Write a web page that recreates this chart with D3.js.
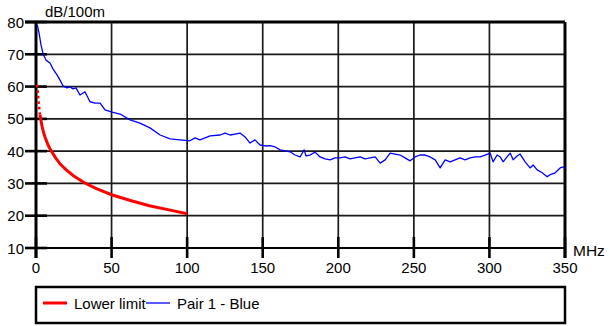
<!DOCTYPE html>
<html>
<head>
<meta charset="utf-8">
<script src="https://cdn.jsdelivr.net/npm/d3@7"></script>
<style>
    body { margin: 0; background: #fff; }
    text { font-family: "Liberation Sans", Arial, sans-serif; fill: #000; }
</style>
</head>
<body>
<div id="chart"></div>
<script>
// tick values
const xTicks = [0, 50, 100, 150, 200, 250, 300, 350];
const yTicks = [10, 20, 30, 40, 50, 60, 70, 80];

// Lower limit (red), first points are drawn dotted
const limitFreq = [0.8, 1, 1.5, 2, 2.6, 3, 4, 5, 6, 8, 10, 13, 16, 20, 25, 32, 40, 50, 62.5, 75, 88, 100];
const limitDb   = [60.5, 59.4, 56.2, 53.8, 51.3, 50.2, 47.7, 45.8, 44.3, 41.9, 40.1, 37.9, 36.0, 34.2, 32.3, 30.2, 28.4, 26.5, 24.7, 23.1, 21.8, 20.6];
const limitDotted = 2.6;

// Pair 1 - Blue
const pairFreq = [0.8, 2, 3.3, 4.8, 6.6, 9.3, 11.3, 13.9, 15.9, 17.9, 20.5, 22.5, 24.5, 26.5, 29.1, 32.4, 35.7, 39, 42.4, 45.7,
    50.3, 55.6, 62.2, 68.8, 75.4, 82.1, 88.7, 95.3, 101.9, 105.2, 108.5, 115.2, 121.8, 125.1, 128.4, 131.7, 135, 138.3, 141.6, 144.9,
    148.2, 151.6, 154.9, 158.2, 161.5, 164.8, 168.1, 171.4, 174.7, 177.4, 178.7, 181.3, 184.6, 188, 191.3, 194.6, 197.9, 201.2, 204.5, 207.8,
    211.1, 214.4, 217.7, 221, 224.4, 227.7, 231, 234.3, 237.6, 240.9, 244.2, 247.5, 250.8, 254.1, 257.4, 260.8, 264.1, 267.4, 270.7, 274,
    277.3, 280.6, 283.9, 287.2, 290.5, 293.8, 297.2, 300.5, 302.4, 305.1, 307.1, 309.1, 311.1, 313.7, 315.7, 318.3, 320.3, 323.6, 326.9, 328.9,
    331.6, 334.9, 338.2, 340.2, 343.5, 346.8, 348.8, 350];
const pairDb = [79.1, 76.6, 72.9, 70.0, 68.2, 67.3, 65.4, 63.6, 62.0, 60.2, 59.6, 59.9, 59.3, 59.6, 57.4, 58.4, 55.3, 54.9, 54.9, 52.8,
    52.1, 51.5, 49.7, 48.7, 47.2, 45.0, 43.8, 43.5, 43.2, 44.1, 43.5, 44.7, 45.0, 45.6, 45.0, 45.3, 45.6, 44.4, 42.5, 43.5,
    41.9, 41.6, 41.7, 41.3, 40.4, 40.1, 39.8, 38.8, 38.2, 40.4, 38.5, 38.8, 39.7, 38.2, 37.6, 37.3, 37.9, 37.9, 38.2, 37.6,
    37.9, 38.2, 37.6, 37.9, 38.2, 36.3, 37.3, 39.4, 39.1, 38.8, 37.9, 37.0, 38.2, 38.8, 38.8, 38.2, 37.3, 34.8, 37.3, 36.7,
    37.3, 37.9, 37.3, 37.9, 38.2, 38.2, 38.8, 39.4, 36.7, 38.8, 38.2, 36.7, 37.9, 39.4, 37.3, 38.5, 39.1, 36.7, 34.8, 35.7,
    34.2, 33.3, 32.1, 32.7, 33.3, 34.8, 35.1, 34.5];

const W = 610, H = 326;
const plot = {left: 36, right: 565, top: 22, bottom: 248};

const svg = d3.select("#chart").append("svg")
    .attr("width", W)
    .attr("height", H);

const x = d3.scaleLinear().domain([0, 350]).range([plot.left, plot.right]);
const y = d3.scaleLinear().domain([10, 80]).range([plot.bottom, plot.top]);

// grid
svg.append("g").selectAll("line")
    .data(yTicks.filter(d => d > 10 && d < 80))
    .join("line")
    .attr("x1", plot.left).attr("x2", plot.right)
    .attr("y1", d => y(d)).attr("y2", d => y(d))
    .attr("stroke", "#1a1a1a").attr("stroke-width", 1.7);

svg.append("g").selectAll("line")
    .data(xTicks.filter(d => d > 0 && d < 350))
    .join("line")
    .attr("x1", d => x(d)).attr("x2", d => x(d))
    .attr("y1", plot.top).attr("y2", plot.bottom)
    .attr("stroke", "#1a1a1a").attr("stroke-width", 1.7);

// frame
svg.append("line").attr("x1", plot.left - 11).attr("x2", plot.right).attr("y1", plot.top).attr("y2", plot.top)
    .attr("stroke", "#000").attr("stroke-width", 3);
svg.append("line").attr("x1", plot.left - 11).attr("x2", plot.right).attr("y1", plot.bottom).attr("y2", plot.bottom)
    .attr("stroke", "#000").attr("stroke-width", 2.2);
svg.append("line").attr("x1", plot.left).attr("x2", plot.left).attr("y1", plot.top).attr("y2", plot.bottom + 10)
    .attr("stroke", "#000").attr("stroke-width", 3);
svg.append("line").attr("x1", plot.right).attr("x2", plot.right).attr("y1", plot.top).attr("y2", plot.bottom + 10)
    .attr("stroke", "#000").attr("stroke-width", 3);

// y ticks
svg.append("g").selectAll("line")
    .data(yTicks)
    .join("line")
    .attr("x1", plot.left - 11).attr("x2", plot.left + 11)
    .attr("y1", d => y(d)).attr("y2", d => y(d))
    .attr("stroke", "#000").attr("stroke-width", 2.6);

svg.append("g").selectAll("text")
    .data(yTicks)
    .join("text")
    .attr("x", plot.left - 12)
    .attr("y", d => y(d) + 5.5)
    .attr("text-anchor", "end")
    .style("font-size", "15px")
    .text(d => d);

// x ticks
svg.append("g").selectAll("line")
    .data(xTicks)
    .join("line")
    .attr("x1", d => x(d)).attr("x2", d => x(d))
    .attr("y1", plot.bottom - 11).attr("y2", plot.bottom + 10)
    .attr("stroke", "#000").attr("stroke-width", 2.6);

svg.append("g").selectAll("text")
    .data(xTicks)
    .join("text")
    .attr("x", d => x(d))
    .attr("y", plot.bottom + 25)
    .attr("text-anchor", "middle")
    .style("font-size", "15px")
    .text(d => d);

svg.append("text").attr("x", 45).attr("y", 17).style("font-size", "15px").text("dB/100m");
svg.append("text").attr("x", 573).attr("y", 256).style("font-size", "15.5px").text("MHz");

// series
const line = d3.line().x(d => x(d[0])).y(d => y(d[1]));
const limitPts = limitFreq.map((f, i) => [f, limitDb[i]]);

svg.append("path")
    .datum(limitPts.filter(d => d[0] <= limitDotted))
    .attr("d", line)
    .attr("fill", "none")
    .attr("stroke", "#ff0000")
    .attr("stroke-width", 2.6)
    .attr("stroke-dasharray", "2.5,3");

svg.append("path")
    .datum(limitPts.filter(d => d[0] >= limitDotted))
    .attr("d", line)
    .attr("fill", "none")
    .attr("stroke", "#ff0000")
    .attr("stroke-width", 3);

svg.append("path")
    .datum(pairFreq.map((f, i) => [f, pairDb[i]]))
    .attr("d", line)
    .attr("fill", "none")
    .attr("stroke", "#0000ff")
    .attr("stroke-width", 1.3)
    .attr("stroke-linejoin", "round");

// legend
const legend = svg.append("g");
legend.append("rect")
    .attr("x", plot.left).attr("y", 287)
    .attr("width", plot.right - plot.left).attr("height", 36)
    .attr("fill", "none").attr("stroke", "#000").attr("stroke-width", 2.5);
legend.append("line").attr("x1", 43).attr("x2", 67).attr("y1", 303).attr("y2", 303)
    .attr("stroke", "#ff0000").attr("stroke-width", 3);
legend.append("text").attr("x", 74).attr("y", 309).style("font-size", "15px").text("Lower limit");
legend.append("line").attr("x1", 146).attr("x2", 170).attr("y1", 303).attr("y2", 303)
    .attr("stroke", "#0000ff").attr("stroke-width", 1.3);
legend.append("text").attr("x", 177).attr("y", 309).style("font-size", "15px").text("Pair 1 - Blue");
</script>
</body>
</html>
